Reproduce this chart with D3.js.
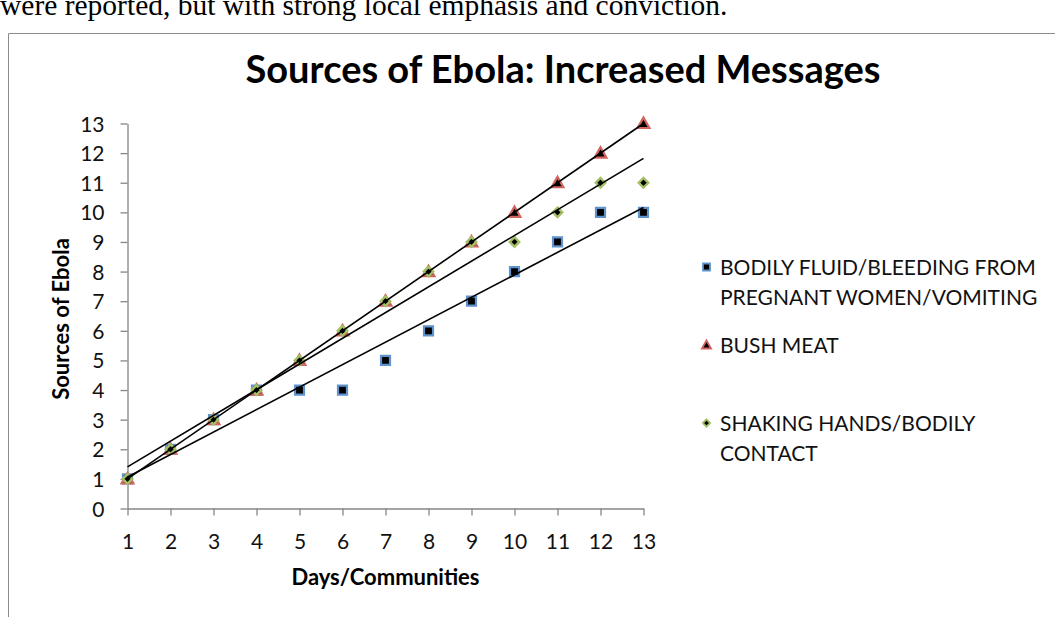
<!DOCTYPE html>
<html>
<head>
<meta charset="utf-8">
<script src="https://cdn.jsdelivr.net/npm/d3@7"></script>
<style>
  html, body { margin: 0; padding: 0; background: #fff; }
  svg { display: block; }
</style>
</head>
<body>
<svg id="chart" width="1055" height="617"></svg>
<script>
// ---- data ----
const days = [1, 2, 3, 4, 5, 6, 7, 8, 9, 10, 11, 12, 13];
const bodilyFluid = [1, 2, 3, 4, 4, 4, 5, 6, 7, 8, 9, 10, 10];
const bushMeat = [1, 2, 3, 4, 5, 6, 7, 8, 9, 10, 11, 12, 13];
const shakingHands = [1, 2, 3, 4, 5, 6, 7, 8, 9, 9, 10, 11, 11];
const yTicks = [0, 1, 2, 3, 4, 5, 6, 7, 8, 9, 10, 11, 12, 13];
const seriesNames = [
  ["BODILY FLUID/BLEEDING FROM", "PREGNANT WOMEN/VOMITING"],
  ["BUSH MEAT"],
  ["SHAKING HANDS/BODILY", "CONTACT"]
];

const svg = d3.select("#chart");
const calibri = "Lato, 'Open Sans', sans-serif";

// surrounding document line
svg.append("text")
  .attr("x", 0).attr("y", 15)
  .attr("font-family", "'Liberation Serif', 'Times New Roman', serif")
  .attr("font-size", 29.5)
  .attr("fill", "#000")
  .text("were reported, but with strong local emphasis and conviction.");

// chart frame
svg.append("path")
  .attr("d", "M8.5,617 V33.5 H1055")
  .attr("fill", "none")
  .attr("stroke", "#8c8c8c")
  .attr("stroke-width", 1);

// title
svg.append("text")
  .attr("x", 563).attr("y", 83)
  .attr("text-anchor", "middle")
  .attr("font-family", calibri)
  .attr("font-weight", "bold")
  .attr("font-size", 38)
  .attr("fill", "#000")
  .text("Sources of Ebola: Increased Messages");

// scales
const x = d3.scaleLinear().domain([1, 13]).range([127.5, 643.5]);
const y = d3.scaleLinear().domain([0, 13]).range([508.5, 123.5]);

const axisColor = "#868686";

// y axis
const yAxis = svg.append("g")
  .attr("transform", `translate(${x(1)},0)`)
  .call(d3.axisLeft(y).tickValues(yTicks).tickFormat(d3.format("d")).tickSizeOuter(0).tickSizeInner(7).tickPadding(16));
// x axis
const xAxis = svg.append("g")
  .attr("transform", `translate(0,${y(0)})`)
  .call(d3.axisBottom(x).tickValues(days).tickFormat(d3.format("d")).tickSizeOuter(0).tickSizeInner(7).tickPadding(18));

[yAxis, xAxis].forEach(g => {
  g.select(".domain").attr("stroke", axisColor).attr("stroke-width", 1.3);
  g.selectAll(".tick line").attr("stroke", axisColor).attr("stroke-width", 1.3);
  g.selectAll(".tick text")
    .attr("font-family", calibri)
    .attr("font-size", 21)
    .attr("fill", "#111");
});
yAxis.selectAll(".tick text").attr("dy", "0.36em");
xAxis.selectAll(".tick text").attr("dy", "0.72em");

// axis titles
svg.append("text")
  .attr("x", 385.5).attr("y", 585)
  .attr("text-anchor", "middle")
  .attr("font-family", calibri)
  .attr("font-weight", "bold")
  .attr("font-size", 22)
  .attr("fill", "#000")
  .text("Days/Communities");

svg.append("text")
  .attr("transform", "translate(69,319) rotate(-90)")
  .attr("text-anchor", "middle")
  .attr("font-family", calibri)
  .attr("font-weight", "bold")
  .attr("font-size", 22)
  .attr("fill", "#000")
  .text("Sources of Ebola");

// marker shapes
const squareSym = {
  draw(ctx, size) { const h = Math.sqrt(size) / 2; ctx.rect(-h, -h, 2 * h, 2 * h); }
};
const triangleSym = {
  draw(ctx, size) {
    const s = Math.sqrt(size);
    ctx.moveTo(0, -s * 0.55); ctx.lineTo(s * 0.55, s * 0.42); ctx.lineTo(-s * 0.55, s * 0.42); ctx.closePath();
  }
};
const diamondSym = {
  draw(ctx, size) {
    const r = Math.sqrt(size) / 2;
    ctx.moveTo(0, -r); ctx.lineTo(r, 0); ctx.lineTo(0, r); ctx.lineTo(-r, 0); ctx.closePath();
  }
};

const series = [
  { values: bodilyFluid, sym: squareSym, size: 81, color: "#5f93cd", sw: 2.2 },
  { values: bushMeat, sym: triangleSym, size: 115, color: "#d2635f", sw: 2.2 },
  { values: shakingHands, sym: diamondSym, size: 90, color: "#a3c064", sw: 2.4 }
];

// markers
series.forEach(s => {
  svg.append("g").selectAll("path")
    .data(days.map((d, i) => [d, s.values[i]]))
    .join("path")
    .attr("transform", d => `translate(${x(d[0])},${y(d[1])})`)
    .attr("d", d3.symbol().type(s.sym).size(s.size))
    .attr("fill", "#000")
    .attr("stroke", s.color)
    .attr("stroke-width", s.sw)
    .attr("stroke-linejoin", "miter");
});

// linear trendlines (least squares fit of each series)
function linearFit(xs, ys) {
  const mx = d3.mean(xs), my = d3.mean(ys);
  const slope = d3.sum(xs, (v, i) => (v - mx) * (ys[i] - my)) / d3.sum(xs, v => (v - mx) ** 2);
  return v => my + slope * (v - mx);
}
const line = d3.line().x(d => x(d[0])).y(d => y(d[1]));
series.forEach(s => {
  const f = linearFit(days, s.values);
  const ends = [days[0], days[days.length - 1]];
  svg.append("path")
    .attr("d", line(ends.map(v => [v, f(v)])))
    .attr("fill", "none")
    .attr("stroke", "#000")
    .attr("stroke-width", 1.6);
});

// legend
const legendX = 706.5;
const legendRows = [275, 353, 431];
series.forEach((s, i) => {
  const yy = legendRows[i];
  svg.append("path")
    .attr("transform", `translate(${legendX},${yy - 8})`)
    .attr("d", d3.symbol().type(s.sym).size(s.size * 0.6))
    .attr("fill", "#000")
    .attr("stroke", s.color)
    .attr("stroke-width", 1.8);
  const t = svg.append("text")
    .attr("x", 720).attr("y", yy)
    .attr("font-family", calibri)
    .attr("font-size", 21)
    .attr("fill", "#111");
  seriesNames[i].forEach((ln, k) => {
    t.append("tspan").attr("x", 720).attr("dy", k === 0 ? 0 : 29.5).text(ln);
  });
});
</script>
</body>
</html>
